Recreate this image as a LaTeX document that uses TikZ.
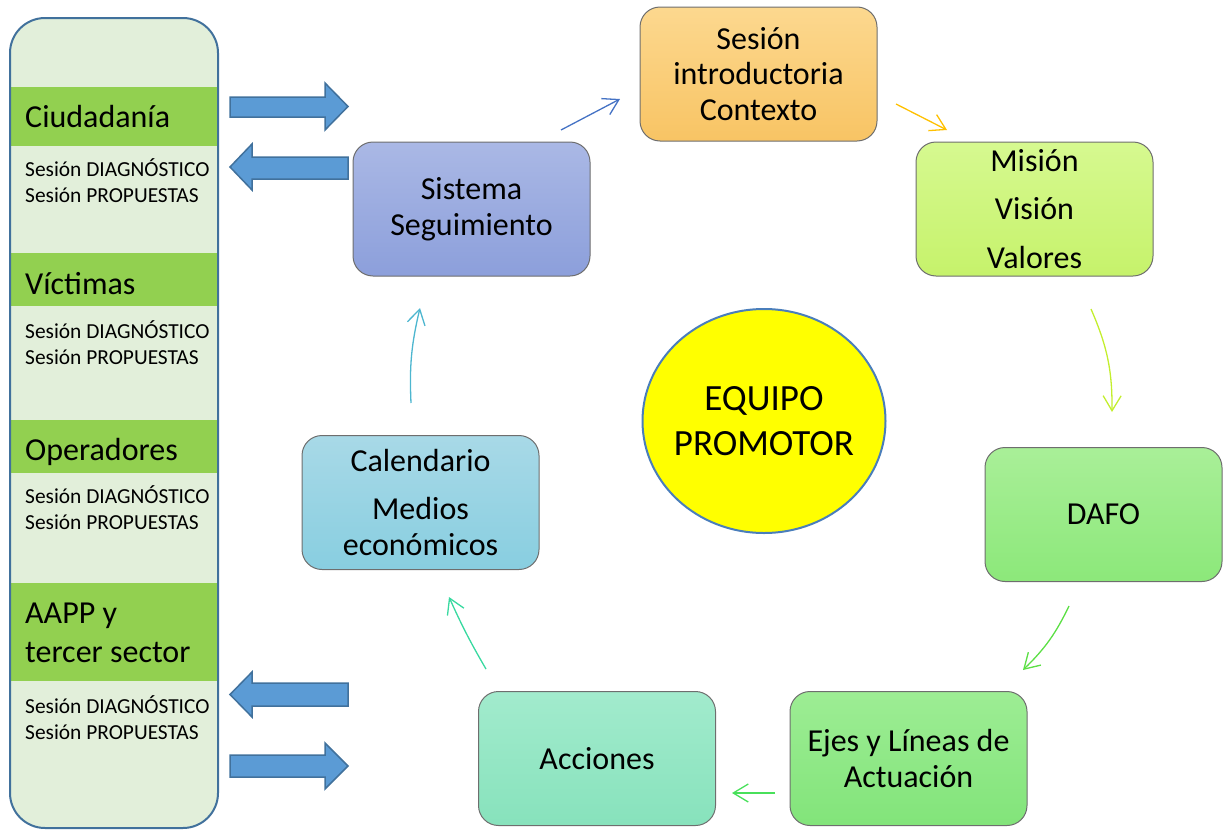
\documentclass[tikz,border=0pt]{standalone}
\usepackage{fontspec}
\setmainfont{Carlito}
\usetikzlibrary{shapes.geometric,arrows.meta}
\definecolor{panelfill}{HTML}{E2EFDA}
\definecolor{panelline}{HTML}{41719C}
\definecolor{bandfill}{HTML}{92D050}
\definecolor{blockfill}{HTML}{5B9BD5}
\definecolor{blockline}{HTML}{41719C}
\definecolor{boxline}{HTML}{6E6E6E}
\definecolor{sesT}{HTML}{FCD88F}\definecolor{sesB}{HTML}{F8C464}
\definecolor{misT}{HTML}{D6F990}\definecolor{misB}{HTML}{C6F26B}
\definecolor{dafT}{HTML}{A9EF98}\definecolor{dafB}{HTML}{8CE87A}
\definecolor{ejeT}{HTML}{9DED94}\definecolor{ejeB}{HTML}{82E47A}
\definecolor{accT}{HTML}{A2EBCD}\definecolor{accB}{HTML}{87E2BC}
\definecolor{calT}{HTML}{A8D9E7}\definecolor{calB}{HTML}{88CEE0}
\definecolor{sisT}{HTML}{AAB8E5}\definecolor{sisB}{HTML}{8C9FDB}
\definecolor{eqfill}{HTML}{FFFF00}
\definecolor{eqline}{HTML}{4A7EBB}
\definecolor{cblue}{HTML}{4472C4}
\definecolor{corange}{HTML}{FFC000}
\definecolor{cyg}{HTML}{C3EE2E}
\definecolor{cgreen}{HTML}{5CDF45}
\definecolor{cgreenb}{HTML}{48E05A}
\definecolor{cteal}{HTML}{38D9A0}
\definecolor{clblue}{HTML}{4DB6CF}
\begin{document}
\begin{tikzpicture}[x=1pt,y=-1pt,
  stagebox/.style={draw=boxline, line width=1pt, rounded corners=20pt,
    minimum width=237pt, minimum height=134pt, inner sep=0pt, align=center,
    font=\fontsize{32}{35.5}\selectfont},
  flow/.style={line width=1.3pt, -{Straight Barb[length=15pt,width=18pt,line width=1.3pt]}},
  blockarrow/.style={fill=blockfill, draw=blockline, line width=1.5pt, line join=miter},
  grp/.style={anchor=base west, inner sep=0pt, align=left, font=\fontsize{32}{39}\selectfont},
  sess/.style={anchor=base west, inner sep=0pt, align=left, font=\fontsize{21.4}{25.5}\selectfont}]
\useasboundingbox (0,0) rectangle (1224,830);

% left panel
\fill[panelfill, rounded corners=35pt] (10,18) rectangle (218,828);
\fill[bandfill] (10,87) rectangle (218,146);
\fill[bandfill] (10,253) rectangle (218,306);
\fill[bandfill] (10,420) rectangle (218,473);
\fill[bandfill] (10,583) rectangle (218,681);
\draw[panelline, line width=2pt, rounded corners=35pt] (10,18) rectangle (218,828);

\node[grp] (g1) at (25,127) {Ciudadanía};
\node[sess] (s1) at (25,202) {Sesión DIAGNÓSTICO\\Sesión PROPUESTAS};
\node[grp] (g2) at (25,294) {Víctimas};
\node[sess] (s2) at (25,364) {Sesión DIAGNÓSTICO\\Sesión PROPUESTAS};
\node[grp] (g3) at (25,460) {Operadores};
\node[sess] (s3) at (25,529) {Sesión DIAGNÓSTICO\\Sesión PROPUESTAS};
\node[grp] (g4) at (25,662) {AAPP y\\tercer sector};
\node[sess] (s4) at (25,739) {Sesión DIAGNÓSTICO\\Sesión PROPUESTAS};

% block arrows
\draw[blockarrow] (230,97) -- (325,97) -- (325,83) -- (348,106.5) -- (325,130) -- (325,117) -- (230,117) -- cycle;
\draw[blockarrow] (348,157) -- (252,157) -- (252,144) -- (230,167) -- (252,190) -- (252,179) -- (348,179) -- cycle;
\draw[blockarrow] (348,683) -- (252,683) -- (252,672) -- (230,694.5) -- (252,717) -- (252,706) -- (348,706) -- cycle;
\draw[blockarrow] (230,755) -- (325,755) -- (325,743) -- (348,766) -- (325,789) -- (325,777) -- (230,777) -- cycle;

% stage boxes
\node[stagebox, top color=sesT, bottom color=sesB] (ses) at (758.5,74) {Sesión\\introductoria\\Contexto};
\node[stagebox, top color=misT, bottom color=misB] (mis) at (1034.5,209) {Misión\\[13pt]Visión\\[13pt]Valores};
\node[stagebox, top color=dafT, bottom color=dafB] (daf) at (1103.5,514.5) {DAFO};
\node[stagebox, top color=ejeT, bottom color=ejeB] (eje) at (908.5,758.5) {Ejes y Líneas de\\Actuación};
\node[stagebox, top color=accT, bottom color=accB] (acc) at (597,758.5) {Acciones};
\node[stagebox, top color=calT, bottom color=calB] (cal) at (420.5,502.5) {Calendario\\[12.5pt]Medios\\económicos};
\node[stagebox, top color=sisT, bottom color=sisB] (sis) at (471.5,209) {Sistema\\Seguimiento};

% centre
\node[ellipse, draw=eqline, line width=2pt, fill=eqfill, minimum width=243pt, minimum height=224pt,
  inner ysep=0pt, inner xsep=-40pt, align=center, font=\fontsize{37}{45}\selectfont] (eq) at (764,421) {EQUIPO\\PROMOTOR};

% connectors
\coordinate (a1) at (561,130); \coordinate (b1) at (620,99);
\coordinate (a2) at (896,104); \coordinate (b2) at (947,130);
\coordinate (a3) at (1091,309); \coordinate (b3) at (1112,412);
\coordinate (a4) at (1069,606); \coordinate (b4) at (1023,670);
\coordinate (a5) at (775,793); \coordinate (b5) at (732,793);
\coordinate (a6) at (486,669); \coordinate (b6) at (449,597);
\coordinate (a7) at (411,403); \coordinate (b7) at (420,308);
\draw[flow, cblue] (a1) -- (b1);
\draw[flow, corange] (a2) -- (b2);
\draw[flow, cyg] (a3) to[bend left=12] (b3);
\draw[flow, cgreen] (a4) to[bend left=10] (b4);
\draw[flow, cgreenb] (a5) -- (b5);
\draw[flow, cteal] (a6) to[bend left=3] (b6);
\draw[flow, clblue] (a7) to[bend left=8] (b7);
\end{tikzpicture}
\end{document}
